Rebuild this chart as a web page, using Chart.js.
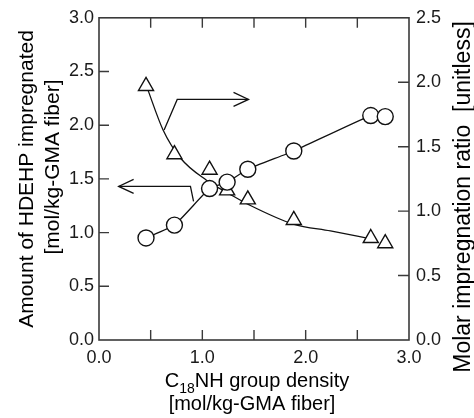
<!DOCTYPE html>
<html>
<head>
<meta charset="utf-8">
<script src="https://cdn.jsdelivr.net/npm/chart.js@4/dist/chart.umd.min.js"></script>
<style>
html,body{margin:0;padding:0;background:#fff;}
#wrap{width:474px;height:418px;}
</style>
</head>
<body>
<div id="wrap"><canvas id="c" width="474" height="418"></canvas></div>
<script>
// ---- data ----
const density = [0.455, 0.73, 1.07, 1.24, 1.44, 1.885, 2.63, 2.77];      // C18NH group density
const amountHDEHP = [0.95, 1.07, 1.41, 1.47, 1.59, 1.76, 2.09, 2.08];    // left axis (circles)
const molarRatio = [1.97, 1.44, 1.32, 1.16, 1.09, 0.93, 0.79, 0.75];     // right axis (triangles)
// fitted curve through the ratio data
const ratioFitX = [0.46, 0.62, 0.79, 1.04, 1.27, 1.45, 1.88, 2.24, 2.63];
const ratioFitY = [1.97, 1.63, 1.41, 1.24, 1.13, 1.05, 0.90, 0.846, 0.785];
// arrows (data units)
const arrowRightX = [0.63, 0.757, 1.447];
const arrowRightY = [1.63, 1.867, 1.867];   // right axis
const arrowLeftX = [0.915, 0.885, 0.19];
const arrowLeftY = [1.29, 1.43, 1.43];      // left axis
const xTicks = [0, 0.5, 1, 1.5, 2, 2.5, 3];
const xLabels = ['0.0', '', '1.0', '', '2.0', '', '3.0'];

const FONT = '"Liberation Sans", Arial, Helvetica, sans-serif';
const pts = (xs, ys) => xs.map((x, i) => ({x: x, y: ys[i]}));

const framePlugin = {
  id: 'frame',
  afterDatasetsDraw(chart) {
    const ctx = chart.ctx, a = chart.chartArea;
    const sx = chart.scales.x, yl = chart.scales.yL, yr = chart.scales.yR;
    ctx.save();
    ctx.strokeStyle = '#3a3a3a';
    ctx.lineWidth = 1.6;
    ctx.strokeRect(a.left, a.top, a.right - a.left, a.bottom - a.top);
    ctx.lineWidth = 1.4;
    ctx.beginPath();
    sx.ticks.forEach(t => {
      if (t.value <= 0 || t.value >= 3) return;
      const px = sx.getPixelForValue(t.value);
      ctx.moveTo(px, a.bottom); ctx.lineTo(px, a.bottom - 10);
      ctx.moveTo(px, a.top); ctx.lineTo(px, a.top + 10);
    });
    yl.ticks.forEach(t => {
      if (t.value <= 0 || t.value >= 3) return;
      const py = yl.getPixelForValue(t.value);
      ctx.moveTo(a.left, py); ctx.lineTo(a.left + 10, py);
    });
    yr.ticks.forEach(t => {
      if (t.value <= 0 || t.value >= 2.5) return;
      const py = yr.getPixelForValue(t.value);
      ctx.moveTo(a.right, py); ctx.lineTo(a.right - 11, py);
    });
    ctx.stroke();

    // arrowheads
    ctx.strokeStyle = '#111';
    ctx.lineWidth = 1.3;
    const head = (tx, ty, dir) => {
      ctx.beginPath();
      ctx.moveTo(tx - dir * 15, ty - 7);
      ctx.lineTo(tx, ty);
      ctx.lineTo(tx - dir * 15, ty + 7);
      ctx.stroke();
    };
    head(sx.getPixelForValue(arrowRightX[2]), yr.getPixelForValue(arrowRightY[2]), 1);
    head(sx.getPixelForValue(arrowLeftX[2]), yl.getPixelForValue(arrowLeftY[2]), -1);
    ctx.restore();
  },
  afterDraw(chart) {
    const ctx = chart.ctx;
    ctx.save();
    ctx.fillStyle = '#000';
    ctx.textAlign = 'center';
    ctx.textBaseline = 'middle';
    // left title
    ctx.font = '21px ' + FONT;
    ctx.save(); ctx.translate(27, 179); ctx.rotate(-Math.PI / 2);
    ctx.fillText('Amount of HDEHP impregnated', 0, 0); ctx.restore();
    ctx.save(); ctx.translate(53, 167); ctx.rotate(-Math.PI / 2);
    ctx.fillText('[mol/kg-GMA fiber]', 0, 0); ctx.restore();
    // right title
    ctx.font = '23px ' + FONT;
    ctx.save(); ctx.translate(464, 197); ctx.rotate(-Math.PI / 2);
    ctx.fillText('Molar impregnation ratio  [unitless]', 0, 0); ctx.restore();
    // x title
    ctx.textBaseline = 'alphabetic';
    ctx.textAlign = 'left';
    const big = '20px ' + FONT, small = '14px ' + FONT;
    ctx.font = big; const wC = ctx.measureText('C').width;
    const rest = 'NH group density';
    const wR = ctx.measureText(rest).width;
    ctx.font = small; const wS = ctx.measureText('18').width;
    const total = wC + wS + wR;
    let x0 = 257 - total / 2;
    ctx.font = big; ctx.fillText('C', x0, 387);
    ctx.font = small; ctx.fillText('18', x0 + wC, 393);
    ctx.font = big; ctx.fillText(rest, x0 + wC + wS, 387);
    ctx.textAlign = 'center';
    ctx.fillText('[mol/kg-GMA fiber]', 252, 410);
    ctx.restore();
  }
};

new Chart(document.getElementById('c'), {
  type: 'scatter',
  data: {
    datasets: [
      {
        label: 'amount', data: pts(density, amountHDEHP), yAxisID: 'yL', order: 1,
        showLine: true, tension: 0.15, borderColor: '#111', borderWidth: 1.3,
        pointStyle: 'circle', pointRadius: 8, pointBorderWidth: 1.4,
        pointBackgroundColor: '#fff', pointBorderColor: '#111'
      },
      {
        label: 'ratio', data: pts(density, molarRatio), yAxisID: 'yR', order: 1,
        showLine: false, pointStyle: 'triangle', pointRadius: 8.7, pointBorderWidth: 1.4,
        pointBackgroundColor: '#fff', pointBorderColor: '#111'
      },
      {
        label: 'ratioFit', data: pts(ratioFitX, ratioFitY), yAxisID: 'yR', order: 3,
        showLine: true, tension: 0.4, cubicInterpolationMode: 'monotone',
        borderColor: '#111', borderWidth: 1.3, pointRadius: 0
      },
      {
        label: 'arrowR', data: pts(arrowRightX, arrowRightY), yAxisID: 'yR', order: 3,
        showLine: true, tension: 0, borderColor: '#111', borderWidth: 1.3, pointRadius: 0
      },
      {
        label: 'arrowL', data: pts(arrowLeftX, arrowLeftY), yAxisID: 'yL', order: 3,
        showLine: true, tension: 0, borderColor: '#111', borderWidth: 1.3, pointRadius: 0
      }
    ]
  },
  options: {
    responsive: false,
    animation: false,
    events: [],
    layout: {padding: {top: 15, left: 0, right: 0, bottom: 0}},
    plugins: {legend: {display: false}, tooltip: {enabled: false}},
    scales: {
      x: {
        type: 'linear', min: 0, max: 3,
        afterBuildTicks: s => { s.ticks = xTicks.map(v => ({value: v})); },
        afterFit: s => { s.height = 78; },
        grid: {display: false, drawTicks: false},
        border: {display: false},
        ticks: {
          padding: 7, color: '#1a1a1a', font: {size: 18, family: FONT},
          maxRotation: 0, autoSkip: false,
          callback: (v, i) => xLabels[i]
        }
      },
      yL: {
        type: 'linear', position: 'left', min: 0, max: 3,
        afterFit: s => { s.width = 99; },
        grid: {display: false, drawTicks: false},
        border: {display: false},
        ticks: {stepSize: 0.5, padding: 5, color: '#1a1a1a', font: {size: 18, family: FONT},
          callback: v => v.toFixed(1)}
      },
      yR: {
        type: 'linear', position: 'right', min: 0, max: 2.5,
        afterFit: s => { s.width = 65; },
        grid: {display: false, drawTicks: false},
        border: {display: false},
        ticks: {stepSize: 0.5, padding: 7, color: '#1a1a1a', font: {size: 18, family: FONT},
          callback: v => v.toFixed(1)}
      }
    }
  },
  plugins: [framePlugin]
});
</script>
</body>
</html>
